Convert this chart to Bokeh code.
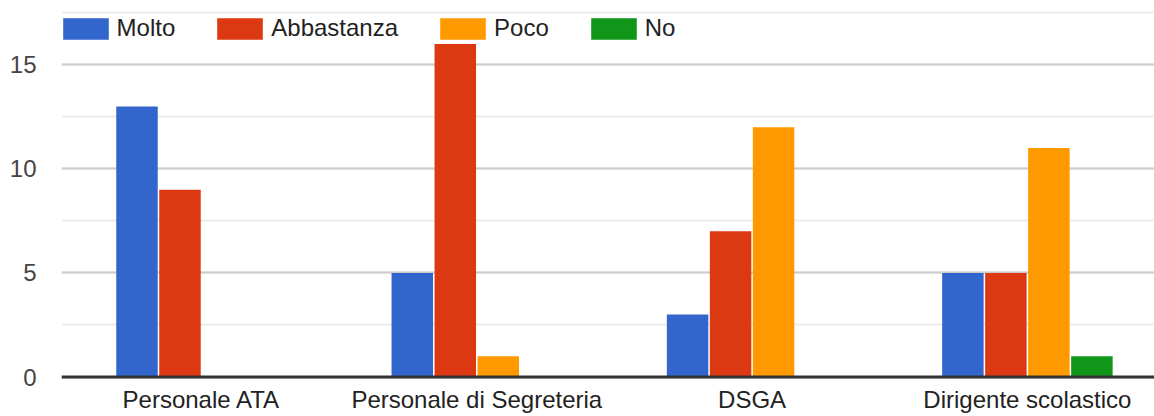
from bokeh.plotting import figure
from bokeh.models import (ColumnDataSource, Range1d, FixedTicker, SingleIntervalTicker,
                          Span, Legend, LegendItem)
from bokeh.transform import dodge
from bokeh.embed import file_html
from bokeh.resources import INLINE

categories = ["Personale ATA", "Personale di Segreteria", "DSGA", "Dirigente scolastico"]
series = ["Molto", "Abbastanza", "Poco", "No"]
molto = [13, 5, 3, 5]
abbastanza = [9, 16, 7, 5]
poco = [0, 1, 12, 11]
no = [0, 0, 0, 1]
colors = ["#3366cc", "#dc3912", "#ff9900", "#109618"]

FONT = "Liberation Sans"
idx = list(range(len(categories)))
source = ColumnDataSource(dict(x=idx, Molto=molto, Abbastanza=abbastanza, Poco=poco, No=no))

p = figure(width=1154, height=416, output_backend="svg", toolbar_location=None,
           x_range=Range1d(-0.5085, 3.4617), y_range=Range1d(-0.12, 18.09),
           min_border_left=61, min_border_right=0, min_border_top=0, min_border_bottom=37)
p.outline_line_color = None
p.background_fill_color = "white"

step = 0.1562
width = 0.1507
offsets = [-1.5 * step, -0.5 * step, 0.5 * step, 1.5 * step]
renderers = []
for s, c, off in zip(series, colors, offsets):
    r = p.vbar(x=dodge("x", off), top=s, width=width, bottom=0, source=source,
               fill_color=c, line_color=None)
    renderers.append(r)

p.add_layout(Span(location=0, dimension="width", line_color="#333333", line_width=3))

for ax in (p.xaxis, p.yaxis):
    ax.axis_line_color = None
    ax.major_tick_line_color = None
    ax.minor_tick_line_color = None
    ax.major_tick_out = 0
    ax.major_tick_in = 0
    ax.minor_tick_out = 0
    ax.minor_tick_in = 0
    ax.axis_label_standoff = 0
    ax.major_label_text_font = FONT
    ax.major_label_text_font_size = "24px"

p.xaxis.ticker = FixedTicker(ticks=idx)
p.xaxis.major_label_overrides = {i: c for i, c in enumerate(categories)}
p.xaxis.major_label_text_color = "#222222"
p.xaxis.major_label_standoff = 6
p.xgrid.visible = False

yt = SingleIntervalTicker(interval=5, num_minor_ticks=2)
p.yaxis.ticker = yt
p.ygrid.ticker = yt
p.yaxis.major_label_text_color = "#444444"
p.yaxis.major_label_standoff = 25
p.ygrid.grid_line_color = "#cccccc"
p.ygrid.grid_line_width = 2
p.ygrid.minor_grid_line_color = "#ebebeb"
p.ygrid.minor_grid_line_width = 2

legend = Legend(items=[LegendItem(label=s, renderers=[r]) for s, r in zip(series, renderers)],
                orientation="horizontal", location=(-4.4, 337), padding=0, margin=0,
                spacing=36, glyph_width=57, glyph_height=27, label_standoff=3,
                label_text_font=FONT, label_text_font_size="24px", label_text_color="#222222",
                border_line_color=None, background_fill_alpha=0)
p.add_layout(legend, "center")

open("out.html", "w").write(file_html(p, INLINE))
